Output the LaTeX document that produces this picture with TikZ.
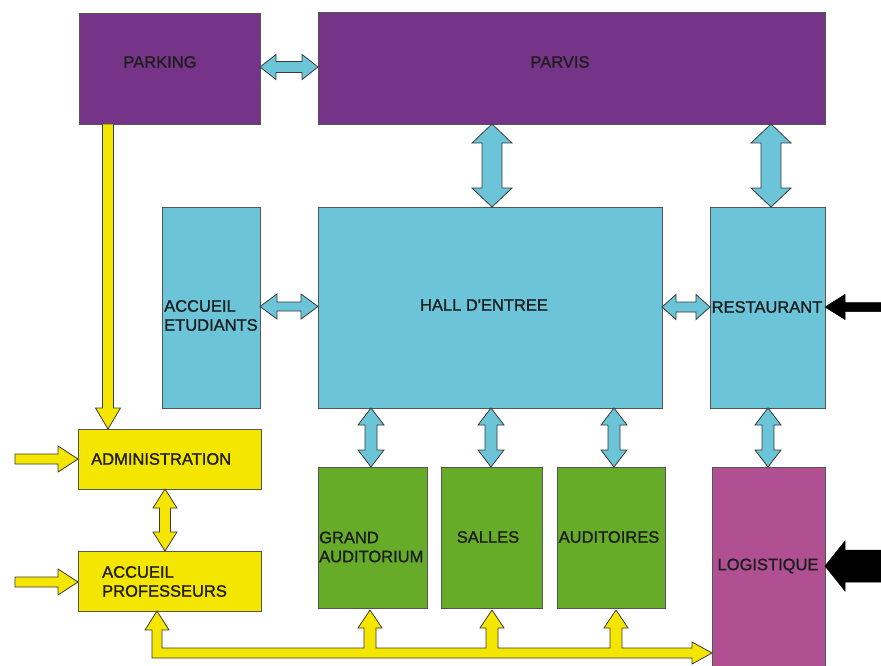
\documentclass[tikz,border=0pt]{standalone}
\usepackage{fontspec}
\setmainfont{Liberation Sans}
\newfontfamily\lblfont[BoldFont={Liberation Sans}, BoldFeatures={FakeBold=1.3}]{Liberation Sans}
\usetikzlibrary{calc}
\definecolor{cPurple}{HTML}{763488}
\definecolor{cCyan}{HTML}{6CC4D8}
\definecolor{cYellow}{HTML}{F5E600}
\definecolor{cGreen}{HTML}{66AC28}
\definecolor{cMagenta}{HTML}{B05092}
\definecolor{cEdge}{HTML}{555555}
\definecolor{cArrEdge}{HTML}{3A3A3A}
\definecolor{cText}{HTML}{1E1E1E}
\tikzset{
  box/.style={draw=cEdge, line width=0.9pt, anchor=north west, inner sep=0pt, outer sep=0pt},
  lbl/.style={font=\lblfont\bfseries\fontsize{16.5}{19}\selectfont, text=cText, inner sep=0pt, align=left},
  cyanarrow/.style={fill=cCyan, draw=cArrEdge, line width=0.8pt},
  yelarrow/.style={fill=cYellow, draw=cArrEdge, line width=0.8pt},
  blkarrow/.style={fill=black, draw=black, line width=0.5pt},
}
% vertical double block arrow: style, top tip, bottom tip, shaft half, head half, head length
\newcommand\ArrV[6]{%
  \draw[#1] let \p1=(#2), \p2=(#3) in
   (\x1,\y1) -- (\x1-#5pt,\y1-#6pt) -- (\x1-#4pt,\y1-#6pt) -- (\x1-#4pt,\y2+#6pt)
   -- (\x1-#5pt,\y2+#6pt) -- (\x1,\y2) -- (\x1+#5pt,\y2+#6pt) -- (\x1+#4pt,\y2+#6pt)
   -- (\x1+#4pt,\y1-#6pt) -- (\x1+#5pt,\y1-#6pt) -- cycle;}
% horizontal double block arrow: style, left tip, right tip, shaft half, head half, head length
\newcommand\ArrH[6]{%
  \draw[#1] let \p1=(#2), \p2=(#3) in
   (\x1,\y1) -- (\x1+#6pt,\y1+#5pt) -- (\x1+#6pt,\y1+#4pt) -- (\x2-#6pt,\y1+#4pt)
   -- (\x2-#6pt,\y1+#5pt) -- (\x2,\y1) -- (\x2-#6pt,\y1-#5pt) -- (\x2-#6pt,\y1-#4pt)
   -- (\x1+#6pt,\y1-#4pt) -- (\x1+#6pt,\y1-#5pt) -- cycle;}
% single block arrow: style, tail, tip, shaft half, head half, head length
\newcommand\ArrS[6]{%
  \draw[#1] let \p1=(#2), \p2=(#3), \n1={veclen(\x2-\x1,\y2-\y1)},
     \n2={(\x2-\x1)/\n1}, \n3={(\y2-\y1)/\n1} in
   ({\x1-#4*(\n3)},{\y1+#4*(\n2)})
   -- ({\x2-#6*(\n2)-#4*(\n3)},{\y2-#6*(\n3)+#4*(\n2)})
   -- ({\x2-#6*(\n2)-#5*(\n3)},{\y2-#6*(\n3)+#5*(\n2)})
   -- (\x2,\y2)
   -- ({\x2-#6*(\n2)+#5*(\n3)},{\y2-#6*(\n3)-#5*(\n2)})
   -- ({\x2-#6*(\n2)+#4*(\n3)},{\y2-#6*(\n3)-#4*(\n2)})
   -- ({\x1+#4*(\n3)},{\y1-#4*(\n2)}) -- cycle;}
\begin{document}
\begin{tikzpicture}[x=1pt,y=-1pt]
\useasboundingbox[fill=white] (0,0) rectangle (881,666);
% boxes
\node[box, fill=cPurple, minimum width=181pt, minimum height=111pt] (parking) at (79,13) {};
\node[box, fill=cPurple, minimum width=507pt, minimum height=112pt] (parvis) at (318,12) {};
\node[box, fill=cCyan, minimum width=98pt, minimum height=201pt] (etu) at (162,207) {};
\node[box, fill=cCyan, minimum width=344pt, minimum height=201pt] (hall) at (318,207) {};
\node[box, fill=cCyan, minimum width=115pt, minimum height=201pt] (resto) at (710,207) {};
\node[box, fill=cYellow, minimum width=183pt, minimum height=60pt] (admin) at (78,429) {};
\node[box, fill=cYellow, minimum width=183pt, minimum height=60pt] (prof) at (78,551) {};
\node[box, fill=cGreen, minimum width=109pt, minimum height=141pt] (ga) at (318,467) {};
\node[box, fill=cGreen, minimum width=101pt, minimum height=141pt] (salles) at (441,467) {};
\node[box, fill=cGreen, minimum width=108pt, minimum height=141pt] (audit) at (557,467) {};
\node[box, fill=cMagenta, minimum width=113pt, minimum height=200pt] (logi) at (712,467) {};
% labels
\node[lbl] (parkingT) at (160,62) {PARKING};
\node[lbl] (parvisT) at (560,62) {PARVIS};
\node[lbl, anchor=west] (etuT) at (164,315.5) {ACCUEIL\\ETUDIANTS};
\node[lbl] (hallT) at (484,305) {HALL D\textquotesingle ENTREE};
\node[lbl] (restoT) at (767,307) {RESTAURANT};
\node[lbl, anchor=west] (adminT) at (91,459) {ADMINISTRATION};
\node[lbl, anchor=west] (profT) at (102,581.5) {ACCUEIL\\PROFESSEURS};
\node[lbl, anchor=west] (gaT) at (319,547) {GRAND\\AUDITORIUM};
\node[lbl] (sallesT) at (488,537) {SALLES};
\node[lbl] (auditT) at (609,537) {AUDITOIRES};
\node[lbl] (logiT) at (768,566) {LOGISTIQUE};
% cyan double arrows
\ArrH{cyanarrow}{$(parking.north east)+(0,54)$}{$(parvis.north west)+(0,55)$}{5.5}{12.5}{16}
\ArrV{cyanarrow}{$(parvis.south west)+(174,0)$}{$(hall.north west)+(174,0)$}{10}{20}{19}
\ArrV{cyanarrow}{$(parvis.south west)+(453,0)$}{$(resto.north west)+(61,0)$}{10}{20}{19}
\ArrH{cyanarrow}{$(etu.north east)+(0,99.5)$}{$(hall.north west)+(0,99.5)$}{4.5}{12.5}{17}
\ArrH{cyanarrow}{$(hall.north east)+(0,100)$}{$(resto.north west)+(0,100)$}{5}{12.5}{14}
\ArrV{cyanarrow}{$(hall.south west)+(53,0)$}{$(ga.north west)+(53,0)$}{6}{13}{17}
\ArrV{cyanarrow}{$(hall.south west)+(173,0)$}{$(salles.north west)+(50,0)$}{6}{13}{17}
\ArrV{cyanarrow}{$(hall.south west)+(296,0)$}{$(audit.north west)+(57,0)$}{6}{13}{17}
\ArrV{cyanarrow}{$(resto.south west)+(58,0)$}{$(logi.north west)+(56,0)$}{6}{13}{17}
% yellow arrows
\ArrV{yelarrow}{$(admin.south west)+(87,0)$}{$(prof.north west)+(87,0)$}{5.5}{12}{19}
\ArrS{yelarrow}{$(parking.south west)+(29,0)$}{$(admin.north west)+(30,0)$}{5.5}{12.5}{21}
\coordinate (inA) at (15,459);
\coordinate (inP) at (15,582);
\ArrS{yelarrow}{inA}{$(admin.north west)+(0,30)$}{5}{13}{20}
\ArrS{yelarrow}{inP}{$(prof.north west)+(0,31)$}{5}{13}{20}
% bus
\draw[yelarrow] let \p1=($(prof.south west)+(79,0)$), \p2=($(ga.south west)+(52,2)$),
   \p3=($(salles.south west)+(51,2)$), \p4=($(audit.south west)+(59,2)$),
   \p5=($(logi.south west)+(0,-14)$) in
  (\x1-5pt,\y5-5pt) -- (\x1-5pt,\y1-19pt) -- (\x1-12pt,\y1-19pt) -- (\x1,\y1)
  -- (\x1+12pt,\y1-19pt) -- (\x1+5pt,\y1-19pt) -- (\x1+5pt,\y5+5pt)
  -- (\x2-6pt,\y5+5pt) -- (\x2-6pt,\y2-18pt) -- (\x2-12pt,\y2-18pt) -- (\x2,\y2)
  -- (\x2+12pt,\y2-18pt) -- (\x2+6pt,\y2-18pt) -- (\x2+6pt,\y5+5pt)
  -- (\x3-6pt,\y5+5pt) -- (\x3-6pt,\y3-18pt) -- (\x3-12pt,\y3-18pt) -- (\x3,\y3)
  -- (\x3+12pt,\y3-18pt) -- (\x3+6pt,\y3-18pt) -- (\x3+6pt,\y5+5pt)
  -- (\x4-6pt,\y5+5pt) -- (\x4-6pt,\y4-18pt) -- (\x4-12pt,\y4-18pt) -- (\x4,\y4)
  -- (\x4+12pt,\y4-18pt) -- (\x4+6pt,\y4-18pt) -- (\x4+6pt,\y5+5pt)
  -- (\x5-20pt,\y5+5pt) -- (\x5-20pt,\y5+11pt) -- (\x5,\y5) -- (\x5-20pt,\y5-11pt)
  -- (\x5-20pt,\y5-5pt) -- cycle;
% black input arrows
\coordinate (inR) at (881,307);
\coordinate (inL) at (881,566);
\ArrS{blkarrow}{inR}{$(resto.north east)+(0,100)$}{4.5}{12.5}{20}
\ArrS{blkarrow}{inL}{$(logi.north east)+(0,99)$}{16}{25}{20}
\end{tikzpicture}
\end{document}
